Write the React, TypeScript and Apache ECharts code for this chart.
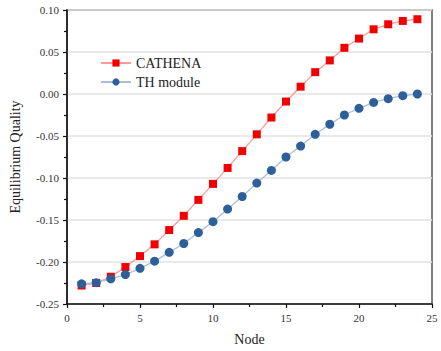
import React, { useEffect, useRef } from "react";
import * as echarts from "echarts";

const nodes = [1, 2, 3, 4, 5, 6, 7, 8, 9, 10, 11, 12, 13, 14, 15, 16, 17, 18, 19, 20, 21, 22, 23, 24];
const cathena = [-0.228, -0.225, -0.2175, -0.206, -0.193, -0.179, -0.162, -0.145, -0.126, -0.107, -0.088, -0.068, -0.048, -0.028, -0.009, 0.0087, 0.026, 0.040, 0.055, 0.066, 0.077, 0.083, 0.087, 0.089];
const thModule = [-0.226, -0.2246, -0.220, -0.215, -0.2075, -0.199, -0.1885, -0.178, -0.165, -0.152, -0.137, -0.122, -0.106, -0.091, -0.075, -0.062, -0.048, -0.036, -0.025, -0.017, -0.010, -0.0056, -0.002, 0.000];

const FONT = "Liberation Serif";

export default function App() {
  const ref = useRef<HTMLDivElement>(null);
  useEffect(() => {
    if (!ref.current) return;
    document.body.style.margin = "0";
    const chart = echarts.init(ref.current, undefined, { renderer: "svg" });
    chart.setOption({
      animation: false,
      backgroundColor: "#ffffff",
      textStyle: { fontFamily: FONT },
      grid: {
        left: 67,
        right: 9,
        top: 10,
        bottom: 47,
        show: true,
        borderColor: "#555",
        borderWidth: 1.5,
        containLabel: false,
      },
      legend: {
        orient: "vertical",
        left: 95,
        top: 51,
        itemWidth: 30,
        itemHeight: 9,
        itemGap: 5,
        textStyle: { fontFamily: FONT, fontSize: 14, color: "#222" },
        data: ["CATHENA", "TH module"],
      },
      xAxis: {
        type: "value",
        min: 0,
        max: 25,
        interval: 5,
        name: "Node",
        nameLocation: "middle",
        nameGap: 28,
        nameTextStyle: { fontFamily: FONT, fontSize: 14, color: "#222" },
        axisLine: { show: true, onZero: false, lineStyle: { color: "#111", width: 1.5 } },
        axisTick: { show: true, inside: false, length: 4, lineStyle: { color: "#111", width: 1.2 } },
        minorTick: { show: true, splitNumber: 2, length: 3, lineStyle: { color: "#111", width: 1.2 } },
        axisLabel: { fontFamily: FONT, fontSize: 11, color: "#333", margin: 8 },
        splitLine: { show: false },
      },
      yAxis: {
        type: "value",
        min: -0.25,
        max: 0.1,
        interval: 0.05,
        name: "Equilibrium Quality",
        nameLocation: "middle",
        nameGap: 45,
        nameTextStyle: { fontFamily: FONT, fontSize: 14, color: "#222" },
        axisLine: { show: true, onZero: false, lineStyle: { color: "#111", width: 1.5 } },
        axisTick: { show: true, inside: false, length: 4, lineStyle: { color: "#111", width: 1.2 } },
        minorTick: { show: true, splitNumber: 2, length: 3, lineStyle: { color: "#111", width: 1.2 } },
        axisLabel: {
          fontFamily: FONT,
          fontSize: 11,
          color: "#333",
          margin: 8,
          formatter: (v: number) => v.toFixed(2),
        },
        splitLine: { show: true, lineStyle: { color: "#e2e2e2", width: 1.5 } },
      },
      series: [
        {
          name: "CATHENA",
          type: "line",
          data: nodes.map((n, i) => [n, cathena[i]]),
          symbol: "rect",
          symbolSize: 8,
          itemStyle: { color: "#f00000" },
          lineStyle: { color: "#ff9a9a", width: 1.3 },
          z: 2,
        },
        {
          name: "TH module",
          type: "line",
          data: nodes.map((n, i) => [n, thModule[i]]),
          symbol: "circle",
          symbolSize: 9,
          itemStyle: { color: "#2d5f98" },
          lineStyle: { color: "#a9bfd9", width: 1.3 },
          z: 3,
        },
      ],
    });
    return () => chart.dispose();
  }, []);
  return <div ref={ref} style={{ position: "fixed", left: 0, top: 0, width: 441, height: 351 }} />;
}
